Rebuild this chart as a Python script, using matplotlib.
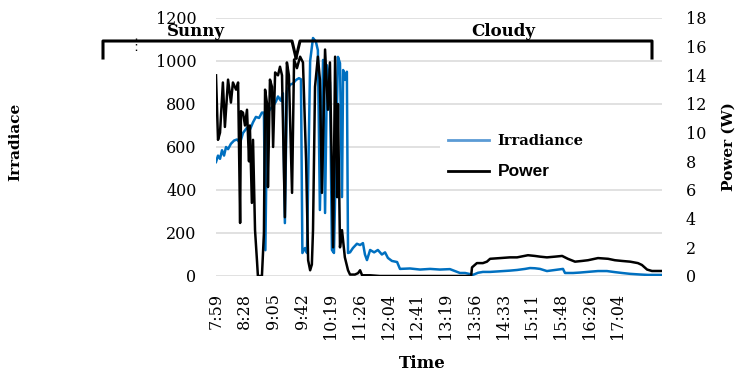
import matplotlib.pyplot as plt
from matplotlib.lines import Line2D

# sample positions (category index, labels every 10 samples) and values
irr_idx = [0.0, 0.7, 1.4, 2.1, 2.8, 3.5, 4.2, 5.2, 6.3, 7.3, 8.4, 9.4, 10.8, 11.8, 12.9, 13.9,
           15.0, 16.0, 16.7, 17.2, 17.8, 18.8, 19.9, 20.9, 21.6, 22.6, 23.3, 24.0, 24.7, 25.8,
           26.8, 27.9, 28.9, 29.6, 30.1, 31.0, 31.7, 32.8, 33.8, 34.8, 35.5, 36.2, 37.3, 38.0,
           38.7, 39.7, 40.4, 41.1, 42.5, 43.2, 43.9, 44.3, 44.9, 45.6, 46.0, 46.7, 47.7, 49.1,
           50.2, 51.2, 51.9, 52.6, 53.7, 55.1, 56.4, 57.8, 58.9, 59.9, 61.3, 63.1, 64.1, 67.6,
           71.1, 74.6, 78.0, 81.5, 85.0, 86.8, 88.5, 89.5, 91.3, 93.0, 95.5, 99.0, 102.4, 104.9,
           107.7, 109.4, 111.1, 112.9, 115.3, 118.1, 120.9, 121.6, 124.4, 126.8, 130.3, 133.1,
           136.2, 139.0, 141.5, 144.3, 147.7, 150.5, 153.0, 155.4]
irr_val = [530, 560, 545, 585, 560, 600, 590, 615, 630, 635, 620, 665, 690, 680, 715, 740,
           735, 760, 760, 120, 755, 775, 790, 812, 835, 815, 850, 246, 860, 890,
           895, 912, 920, 915, 107, 130, 107, 1000, 1107, 1090, 1050, 307, 1005, 293,
           980, 900, 121, 107, 1019, 990, 367, 958, 912, 950, 107, 110, 130, 150,
           144, 153, 100, 74, 121, 110, 121, 100, 110, 84, 70, 65, 33, 35,
           30, 33, 30, 32, 14, 14, 9, 5, 15, 19, 19, 22, 25, 28,
           33, 37, 36, 33, 23, 28, 33, 14, 14, 16, 20, 23,
           23, 18, 14, 10, 7, 5, 5, 5]

pwr_idx = [0.0, 0.7, 1.4, 2.4, 3.1, 4.2, 5.2, 5.9, 7.0, 7.7, 8.4, 8.7, 9.4, 10.1, 10.8, 11.5,
           11.8, 12.5, 12.9, 13.6, 14.3, 14.6, 16.0, 16.7, 17.1, 17.8, 18.1, 18.8, 19.5, 19.9,
           20.6, 21.6, 22.3, 23.0, 24.0, 24.7, 25.4, 26.5, 27.2, 28.2, 29.3, 30.3, 31.4, 32.1,
           32.8, 33.4, 33.8, 34.5, 35.5, 36.2, 36.9, 38.0, 39.0, 39.7, 40.8, 41.5, 42.2, 42.5,
           43.2, 43.9, 44.9, 46.0, 46.7, 48.4, 49.5, 50.2, 50.9, 53.7, 57.1, 64.1, 71.1, 78.0,
           85.0, 88.9, 89.2, 90.9, 93.0, 94.4, 95.5, 99.0, 102.4, 104.9, 108.7, 111.1, 112.9,
           115.3, 118.1, 120.6, 122.6, 125.1, 127.5, 129.6, 133.1, 136.6, 139.0, 141.5, 144.3,
           147.0, 148.4, 150.2, 151.9, 155.4]
pwr_val = [14.0, 9.5, 10.0, 13.5, 10.4, 13.7, 12.1, 13.5, 13.0, 13.5, 3.7, 11.5, 11.4, 10.5,
           11.6, 8.0, 10.5, 5.1, 9.5, 3.2, 1.0, 0.0, 0.0, 3.0, 13.0, 12.0, 6.2, 13.7, 13.2, 9.0,
           14.2, 14.0, 14.6, 14.0, 4.1, 14.9, 14.0, 5.8, 15.1, 14.5, 15.3, 14.9, 8.0, 1.1,
           0.4, 0.8, 3.2, 13.2, 15.3, 13.7, 5.8, 15.8, 11.6, 14.9, 2.0, 15.3, 5.5, 12.0,
           2.0, 3.2, 1.3, 0.4, 0.1, 0.1, 0.2, 0.4, 0.05, 0.05, 0.0, 0.0, 0.0, 0.0,
           0.0, 0.0, 0.6, 0.9, 0.9, 1.0, 1.2, 1.25, 1.3, 1.3, 1.45, 1.4, 1.35,
           1.3, 1.35, 1.4, 1.2, 1.0, 1.05, 1.1, 1.25, 1.2, 1.1, 1.05, 1.0,
           0.9, 0.77, 0.45, 0.35, 0.35]

tick_labels = ['7:59', '8:28', '9:05', '9:42', '10:19', '11:26', '12:04', '12:41',
               '13:19', '13:56', '14:33', '15:11', '15:48', '16:26', '17:04']

W, H = 739, 374
serif = 'DejaVu Serif'
fig = plt.figure(figsize=(W / 100, H / 100), dpi=100)
ax = fig.add_axes([216 / W, 1 - 276 / H, (662 - 216) / W, (276 - 18) / H])
ax2 = ax.twinx()

ax.plot(irr_idx, irr_val, color='#0070C0', lw=1.8)
ax2.plot(pwr_idx, pwr_val, color='black', lw=1.8)

ax.set_xlim(0, 155.4)
ax.set_ylim(0, 1200)
ax2.set_ylim(0, 18)
ax.set_yticks(range(0, 1201, 200))
ax2.set_yticks(range(0, 19, 2))
ax.set_xticks(range(0, 141, 10))
ax.set_xticklabels(tick_labels, rotation=90, va='top')
ax.grid(axis='y', color='#d9d9d9', lw=1.1)
ax.set_axisbelow(True)
for a in (ax, ax2):
    for s in a.spines.values():
        s.set_visible(False)
ax.tick_params(axis='y', length=0, pad=14, labelsize=11.5)
ax.tick_params(axis='x', length=0, pad=12, labelsize=11.5)
ax2.tick_params(axis='y', length=0, pad=17, labelsize=11.5)
for t in ax.get_xticklabels() + ax.get_yticklabels() + ax2.get_yticklabels():
    t.set_fontfamily(serif)

fig.text(15 / W, 1 - 142 / H, 'Irradiace', rotation=90, ha='center', va='center',
         fontsize=11, fontweight='bold', family=serif)
fig.text(729 / W, 1 - 147 / H, 'Power (W)', rotation=90, ha='center', va='center',
         fontsize=11, fontweight='bold', family=serif)
fig.text(422 / W, 1 - 363 / H, 'Time', ha='center', va='center',
         fontsize=12, fontweight='bold', family=serif)

# legend (white box runs across to the right edge of the plot)
handles = [Line2D([], [], color='#5B9BD5', lw=2), Line2D([], [], color='black', lw=2)]
leg = ax2.legend(handles, ['Irradiance', 'Power'], loc='upper left', mode='expand',
                 bbox_to_anchor=(440 / W, 1 - 190 / H, 222 / W, 64 / H),
                 bbox_transform=fig.transFigure,
                 frameon=True, facecolor='white', edgecolor='none', framealpha=1,
                 fancybox=False, handlelength=2.9, handletextpad=0.65, labelspacing=1.1,
                 borderaxespad=0, borderpad=0.6)
leg.get_texts()[0].set_fontfamily(serif)
leg.get_texts()[0].set_fontweight('bold')
leg.get_texts()[0].set_fontsize(10.5)
leg.get_texts()[1].set_fontfamily('Liberation Sans')
leg.get_texts()[1].set_fontweight('bold')
leg.get_texts()[1].set_fontsize(12.5)

# Sunny / Cloudy brackets
def fx(px):
    return px / W

def fy(py):
    return 1 - py / H

fig.add_artist(Line2D([fx(103), fx(103), fx(292), fx(296)],
                      [fy(58), fy(41), fy(41), fy(58)], color='black', lw=2.2,
                      solid_joinstyle='round'))
fig.add_artist(Line2D([fx(296), fx(300), fx(652), fx(652)],
                      [fy(58), fy(41), fy(41), fy(58)], color='black', lw=2.2,
                      solid_joinstyle='round'))
fig.add_artist(Line2D([fx(136), fx(136)], [fy(38), fy(53)], color='black', lw=1,
                      linestyle=(0, (1, 3))))
fig.text(196 / W, 1 - 31 / H, 'Sunny', ha='center', va='center', fontsize=12,
         fontweight='bold', family=serif)
fig.text(503 / W, 1 - 32 / H, 'Cloudy', ha='center', va='center', fontsize=12,
         fontweight='bold', family=serif)

fig.savefig('out.png', dpi=100)
